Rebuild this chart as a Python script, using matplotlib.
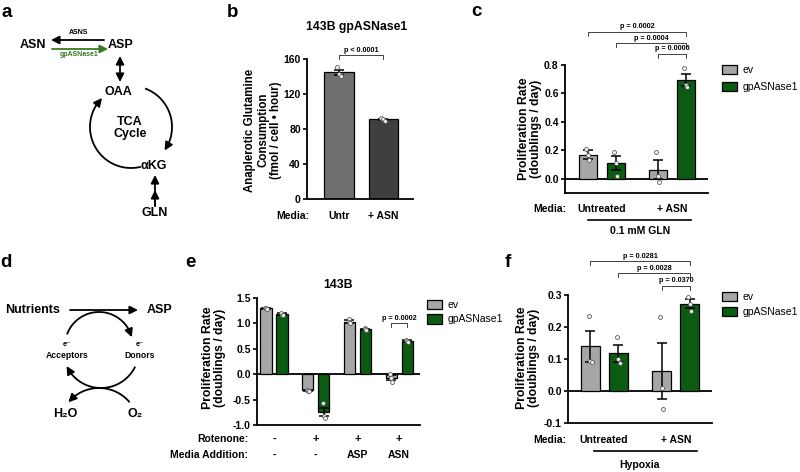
import numpy as np
import matplotlib
matplotlib.use('Agg')
import matplotlib.pyplot as plt
import matplotlib.transforms as mtransforms

plt.rcParams['font.family'] = ['Liberation Sans', 'DejaVu Sans']
plt.rcParams['font.weight'] = 'bold'
plt.rcParams['axes.unicode_minus'] = False

# ---- data ----
b_labels = ['Untr', '+ ASN']
b_means = [145, 91]
b_err = [3, 1]
b_pts = [[151, 143, 141], [93, 91, 89]]

groups = ['Untreated', '+ ASN']
c_ev = [0.17, 0.065]
c_ev_err = [0.03, 0.065]
c_ev_pts = [[0.21, 0.17, 0.13], [0.19, 0.02, -0.02]]
c_g = [0.11, 0.695]
c_g_err = [0.05, 0.042]
c_g_pts = [[0.19, 0.11, 0.02], [0.78, 0.66, 0.645]]
c_pvals = ['p = 0.0002', 'p = 0.0004', 'p = 0.0006']

e_rot = ['-', '+', '+', '+']
e_add = ['-', '-', 'ASP', 'ASN']
e_ev = [1.30, -0.32, 1.03, -0.07]
e_ev_err = [0.01, 0.01, 0.03, 0.05]
e_ev_pts = [[1.31, 1.30, 1.29], [-0.31, -0.33, -0.34], [1.08, 1.02, 1.00], [0.01, -0.07, -0.16]]
e_g = [1.18, -0.75, 0.88, 0.65]
e_g_err = [0.02, 0.08, 0.01, 0.02]
e_g_pts = [[1.21, 1.17, 1.16], [-0.57, -0.82, -0.87], [0.90, 0.88, 0.87], [0.68, 0.65, 0.63]]

f_ev = [0.14, 0.062]
f_ev_err = [0.048, 0.088]
f_ev_pts = [[0.235, 0.095, 0.09], [0.23, 0.01, -0.055]]
f_g = [0.118, 0.272]
f_g_err = [0.027, 0.014]
f_g_pts = [[0.168, 0.10, 0.088], [0.295, 0.272, 0.25]]
f_pvals = ['p = 0.0281', 'p = 0.0028', 'p = 0.0370']

EV = '#a6a6a6'
GP = '#0b5c12'
ARROW_GREEN = '#3a7a22'

W, H = 800, 472
fig = plt.figure(figsize=(8, 4.72), dpi=100)
fig.patch.set_facecolor('white')

# overlay in pixel coordinates for diagrams and free text
ov = fig.add_axes([0, 0, 1, 1], zorder=5)
ov.set_xlim(0, W)
ov.set_ylim(H, 0)
ov.axis('off')

AP = dict(color='black', lw=1.3, shrinkA=0, shrinkB=0, mutation_scale=12)


def arrow(x0, y0, x1, y1, color='black', style='-|>'):
    p = dict(AP, color=color, arrowstyle=style + ',head_length=0.4,head_width=0.2')
    ov.annotate('', xy=(x1, y1), xytext=(x0, y0), arrowprops=p)


def arc(cx, cy, r, a0, a1):
    t = np.radians(np.linspace(a0, a1, 60))
    x = cx + r * np.cos(t)
    y = cy - r * np.sin(t)
    ov.plot(x[:-3], y[:-3], color='black', lw=1.3, solid_capstyle='butt')
    arrow(x[-6], y[-6], x[-1], y[-1])


def panel(x0, x1, ytop, ybot, xlim, ylim, yticks):
    ax = fig.add_axes([x0 / W, 1 - ybot / H, (x1 - x0) / W, (ybot - ytop) / H])
    ax.set_xlim(*xlim)
    ax.set_ylim(*ylim)
    ax.set_yticks(yticks)
    ax.set_xticks([])
    for s in ['top', 'right']:
        ax.spines[s].set_visible(False)
    for s in ['left', 'bottom']:
        ax.spines[s].set_linewidth(1.3)
    ax.tick_params(axis='y', length=3, width=1.2, labelsize=7.5, pad=1.5)
    ax.patch.set_alpha(0)
    return ax


def blend(ax):
    return mtransforms.blended_transform_factory(ax.transData, ov.transData)


def bars(ax, xs, means, errs, pts, color, bw, label=None):
    cont = ax.bar(xs, means, width=bw, color=color, edgecolor='black',
                  linewidth=0.9, zorder=2, label=label)
    ax.errorbar(xs, means, yerr=errs, fmt='none', ecolor='black',
                elinewidth=1.1, capsize=3.5, capthick=1.1, zorder=3)
    for x, p in zip(xs, pts):
        ax.plot(x + np.array([-0.08, 0, 0.08]) * bw, p, 'o', ms=2.8, mfc='white',
                mec='#555555', mew=0.6, zorder=4, clip_on=False)
    return cont


def bracket(ax, x0, x1, y, text, leg=4):
    bt = blend(ax)
    ov.plot([x0, x0, x1, x1], [y + leg, y, y, y + leg], color='#222222', lw=0.6, transform=bt)
    ov.text((x0 + x1) / 2, y - 1.5, text, transform=bt, ha='center', va='bottom', fontsize=5.2)


def legend(ax, x, y, spacing):
    ax.legend(loc='upper left', bbox_to_anchor=(x / W, 1 - y / H), bbox_transform=fig.transFigure,
              frameon=False, prop={'weight': 'normal', 'size': 7.5}, handlelength=1.4,
              handleheight=1.0, handletextpad=0.6, labelspacing=spacing,
              borderpad=0, borderaxespad=0)


def letter(x, y, s):
    ov.text(x, y, s, fontsize=13.5, ha='left', va='baseline')


# ---- panel a ----
letter(1, 17, 'a')
ov.text(33, 45, 'ASN', fontsize=9, ha='center', va='center')
ov.text(121, 45, 'ASP', fontsize=9, ha='center', va='center')
ov.text(79, 33, 'ASNS', fontsize=5, ha='center', va='center')
arrow(104, 40, 51, 40)
arrow(52, 49, 108, 49, color=ARROW_GREEN)
ov.text(79, 55, 'gpASNase1', fontsize=5, ha='center', va='center', color=ARROW_GREEN)
arrow(120, 56, 120, 82, style='<|-|>')
ov.text(118, 92, 'OAA', fontsize=9, ha='center', va='center')
ov.text(130, 128, 'TCA\nCycle', fontsize=9, ha='center', va='center', linespacing=1.1)
ov.text(154, 166, 'αKG', fontsize=9, ha='center', va='center')
ov.text(155, 213, 'GLN', fontsize=9, ha='center', va='center')
arc(131, 127, 41, 70, -35)
arc(131, 127, 41, 284, 135)
arrow(155, 206, 155, 175)
arrow(155, 206, 155, 190)

# ---- panel b ----
letter(227, 17, 'b')
bw_b = 0.66
ax_b = panel(307, 413, 59, 199, (-0.727, 1.68), (0, 160), [0, 40, 80, 120, 160])
xb = np.arange(len(b_labels))
for i in range(len(b_labels)):
    bars(ax_b, [xb[i]], [b_means[i]], [b_err[i]], [b_pts[i]], ['#6f6f6f', '#3f3f3f'][i], bw_b)
bt = blend(ax_b)
ov.text(357, 27, '143B gpASNase1', fontsize=8.8, ha='center', va='center')
bracket(ax_b, xb[0], xb[1], 55, 'p < 0.0001')
ov.text(263, 130, 'Anaplerotic Glutamine\nConsumption\n(fmol / cell • hour)', rotation=90,
        fontsize=8.3, ha='center', va='center', multialignment='center', linespacing=1.15)
ov.text(309, 216, 'Media:', fontsize=7.5, ha='right', va='center')
for x, s in zip(xb, b_labels):
    ov.text(x, 216, s, transform=bt, fontsize=7.5, ha='center', va='center')

# ---- panel c ----
letter(471, 16, 'c')
bw = 0.65
ax_c = panel(565, 708, 65, 193, (-0.82, 4.29), (-0.1, 0.8), [0, 0.2, 0.4, 0.6, 0.8])
c_pos = np.array([0.5, 3.0])
ax_c.axhline(0, color='black', lw=1.3, zorder=1)
bars(ax_c, c_pos - 0.5, c_ev, c_ev_err, c_ev_pts, EV, bw, 'ev')
bars(ax_c, c_pos + 0.5, c_g, c_g_err, c_g_pts, GP, bw, 'gpASNase1')
bracket(ax_c, c_pos[0] - 0.5, c_pos[1] + 0.5, 32, c_pvals[0])
bracket(ax_c, c_pos[0] + 0.5, c_pos[1] + 0.5, 43, c_pvals[1])
bracket(ax_c, c_pos[1] - 0.5, c_pos[1] + 0.5, 54, c_pvals[2])
legend(ax_c, 722, 65, 0.65)
ov.text(530, 129, 'Proliferation Rate\n(doublings / day)', rotation=90, fontsize=8.8,
        ha='center', va='center', multialignment='center', linespacing=1.1)
bt = blend(ax_c)
ov.text(566, 209, 'Media:', fontsize=7.5, ha='right', va='center')
for x, s in zip(c_pos, groups):
    ov.text(x, 209, s, transform=bt, fontsize=7.5, ha='center', va='center')
ov.plot([c_pos[0] - 0.5, c_pos[1] + 0.7], [220, 220], color='black', lw=1.2, transform=bt)
ov.text(c_pos.mean() + 0.1, 231, '0.1 mM GLN', transform=bt, fontsize=7.5, ha='center', va='center')

# ---- panel d ----
letter(0, 267, 'd')
ov.text(33, 310, 'Nutrients', fontsize=9, ha='center', va='center')
ov.text(160, 310, 'ASP', fontsize=9, ha='center', va='center')
arrow(70, 310, 138, 310)
arc(99, 346, 34, 160, 15)
arc(101, 350, 38, -26, -155)
arc(99, 428, 40, 40, 140)
for x, s in [(67, 'Acceptors'), (140, 'Donors')]:
    ov.text(x, 344, 'e⁻', fontsize=5.5, ha='center', va='center')
    ov.text(x, 356, s, fontsize=6.2, ha='center', va='center')
ov.text(65, 414, 'H₂O', fontsize=9, ha='center', va='center')
ov.text(135, 414, 'O₂', fontsize=9, ha='center', va='center')

# ---- panel e ----
letter(185, 267, 'e')
bw_e = 0.69
ax_e = panel(257, 420, 298, 425, (-0.56, 9.6), (-1.0, 1.5), [-1.0, -0.5, 0.0, 0.5, 1.0, 1.5])
e_pos = np.array([0.5, 3.1, 5.7, 8.3])
ax_e.axhline(0, color='black', lw=1.3, zorder=1)
bars(ax_e, e_pos - 0.5, e_ev, e_ev_err, e_ev_pts, EV, bw_e, 'ev')
bars(ax_e, e_pos + 0.5, e_g, e_g_err, e_g_pts, GP, bw_e, 'gpASNase1')
bracket(ax_e, e_pos[3] - 0.5, e_pos[3] + 0.5, 323, 'p = 0.0002')
legend(ax_e, 427, 300, 0.38)
ov.text(338, 285, '143B', fontsize=8.8, ha='center', va='center')
ov.text(214, 358, 'Proliferation Rate\n(doublings / day)', rotation=90, fontsize=8.8,
        ha='center', va='center', multialignment='center', linespacing=1.1)
bt = blend(ax_e)
ov.text(248, 439, 'Rotenone:', fontsize=7.5, ha='right', va='center')
ov.text(248, 455, 'Media Addition:', fontsize=7.5, ha='right', va='center')
for x, r, a in zip(e_pos, e_rot, e_add):
    ov.text(x, 439, r, transform=bt, fontsize=8, ha='center', va='center')
    ov.text(x, 455, a, transform=bt, fontsize=7.5, ha='center', va='center')

# ---- panel f ----
letter(505, 267, 'f')
ax_f = panel(568, 712, 295, 423, (-0.79, 4.36), (-0.1, 0.3), [-0.1, 0.0, 0.1, 0.2, 0.3])
f_pos = np.array([0.5, 3.07])
ax_f.axhline(0, color='black', lw=1.3, zorder=1)
bars(ax_f, f_pos - 0.5, f_ev, f_ev_err, f_ev_pts, EV, 0.68, 'ev')
bars(ax_f, f_pos + 0.5, f_g, f_g_err, f_g_pts, GP, 0.68, 'gpASNase1')
bracket(ax_f, f_pos[0] - 0.5, f_pos[1] + 0.5, 261, f_pvals[0])
bracket(ax_f, f_pos[0] + 0.5, f_pos[1] + 0.5, 273, f_pvals[1])
bracket(ax_f, f_pos[1] - 0.5, f_pos[1] + 0.5, 286, f_pvals[2])
legend(ax_f, 722, 292, 0.45)
ov.text(528, 358, 'Proliferation Rate\n(doublings / day)', rotation=90, fontsize=8.8,
        ha='center', va='center', multialignment='center', linespacing=1.1)
bt = blend(ax_f)
ov.text(566, 440, 'Media:', fontsize=7.5, ha='right', va='center')
for x, s in zip(f_pos, groups):
    ov.text(x, 440, s, transform=bt, fontsize=7.5, ha='center', va='center')
ov.plot([f_pos[0] - 0.35, f_pos[1] + 0.75], [451, 451], color='black', lw=1.2, transform=bt)
ov.text(640, 465, 'Hypoxia', fontsize=7.5, ha='center', va='center')

fig.savefig('out.png', dpi=100, facecolor='white')
